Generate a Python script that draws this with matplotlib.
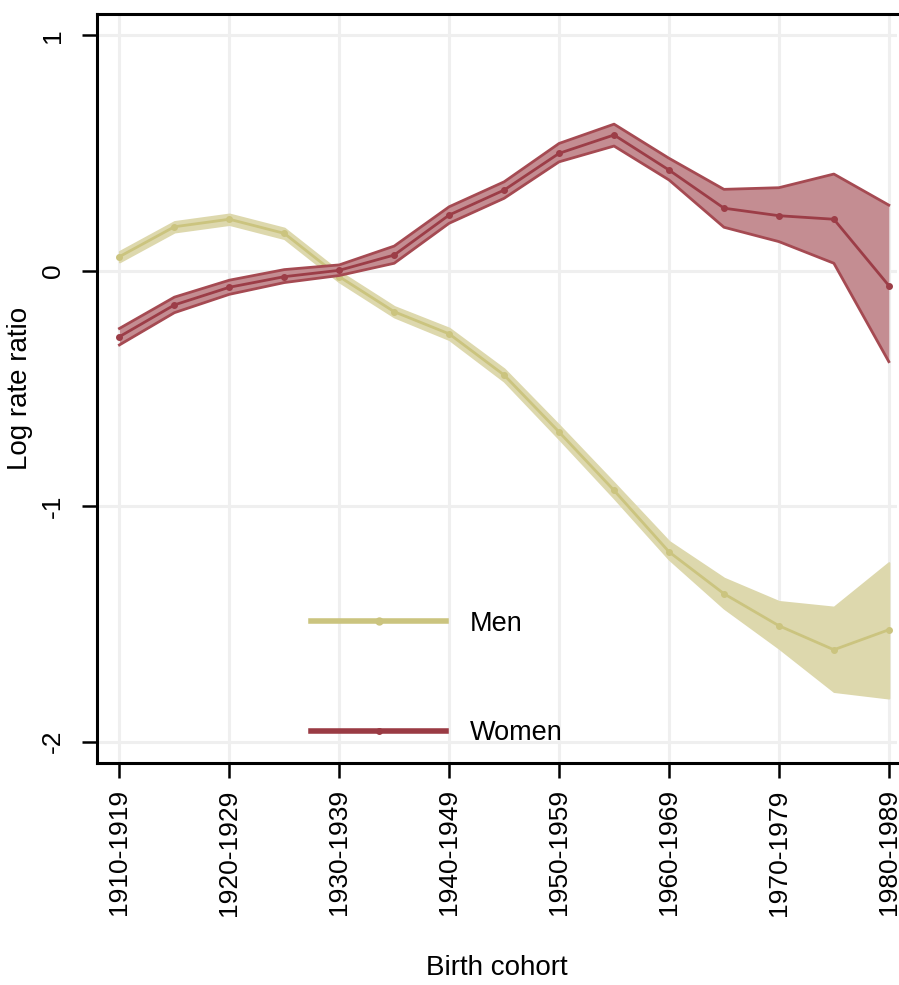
import matplotlib
matplotlib.use("Agg")
import matplotlib.pyplot as plt
from matplotlib.lines import Line2D
import numpy as np

plt.rcParams['font.family'] = ['Liberation Sans', 'DejaVu Sans']

# ---- data ----
cohort_index = list(range(15))  # half-decade steps, 1910 ... 1980
tick_labels = ["1910-1919", "1920-1929", "1930-1939", "1940-1949",
               "1950-1959", "1960-1969", "1970-1979", "1980-1989"]
tick_positions = [0, 2, 4, 6, 8, 10, 12, 14]

men = [0.060, 0.187, 0.219, 0.159, -0.025, -0.174, -0.268, -0.443, -0.685,
       -0.933, -1.194, -1.372, -1.508, -1.610, -1.525]
men_lo = [0.038, 0.165, 0.197, 0.137, -0.047, -0.196, -0.292, -0.469, -0.714,
          -0.965, -1.225, -1.433, -1.603, -1.787, -1.815]
men_hi = [0.082, 0.209, 0.241, 0.181, -0.003, -0.152, -0.244, -0.417, -0.656,
          -0.901, -1.150, -1.306, -1.405, -1.429, -1.240]

women = [-0.280, -0.145, -0.070, -0.025, 0.002, 0.067, 0.237, 0.343, 0.499,
         0.577, 0.428, 0.266, 0.234, 0.219, -0.063]
women_lo = [-0.315, -0.178, -0.100, -0.050, -0.020, 0.032, 0.202, 0.308, 0.463,
            0.530, 0.386, 0.185, 0.124, 0.032, -0.386]
women_hi = [-0.245, -0.112, -0.040, 0.005, 0.025, 0.105, 0.272, 0.378, 0.541,
            0.623, 0.478, 0.346, 0.353, 0.411, 0.279]

# ---- styles ----
men_fill = '#ddd8ad'
men_line = '#cbc47f'
women_fill = '#c48d92'
women_edge = '#a54a52'
women_line = '#9c3d47'
FS = 19

fig = plt.figure(figsize=(8.99, 9.85), dpi=100)
ax = fig.add_axes([0.1079, 0.2254, 0.8899, 0.7604])

# gridlines
for tp in tick_positions:
    ax.axvline(tp, color='#efefef', lw=2.2, zorder=0)
for yv in [1, 0, -1, -2]:
    ax.axhline(yv, color='#efefef', lw=2.2, zorder=0)

# men
ax.fill_between(cohort_index, men_lo, men_hi, color=men_fill, lw=1.5,
                edgecolor=men_fill, zorder=2)
ax.plot(cohort_index, men, color=men_line, lw=2, marker='o', ms=4, zorder=3)

# women
ax.fill_between(cohort_index, women_lo, women_hi, color=women_fill, zorder=4,
                lw=0)
ax.plot(cohort_index, women_lo, color=women_edge, lw=2, zorder=5)
ax.plot(cohort_index, women_hi, color=women_edge, lw=2, zorder=5)
ax.plot(cohort_index, women, color=women_line, lw=2, marker='o', ms=4, zorder=6)

ax.set_xlim(-0.408, 14.149)
ax.set_ylim(-2.091, 1.091)

ax.set_xticks(tick_positions)
ax.set_xticklabels(tick_labels, rotation=90, fontsize=FS)
ax.set_yticks([1, 0, -1, -2])
ax.set_yticklabels(['1', '0', '-1', '-2'], rotation=90, fontsize=FS,
                   va='center')
ax.tick_params(axis='x', direction='out', length=11, width=1.8,
               color='black', pad=8)
ax.tick_params(axis='y', direction='out', length=11, width=1.8,
               color='black', pad=12)

for s in ['left', 'bottom', 'top']:
    ax.spines[s].set_linewidth(2.2)
ax.spines['right'].set_visible(False)

ax.set_xlabel('Birth cohort', fontsize=20, labelpad=28)
ax.set_ylabel('Log rate ratio', fontsize=20, labelpad=6)

handles = [Line2D([], [], color=men_line, lw=4, marker='o', ms=5),
           Line2D([], [], color='#9a3b44', lw=4, marker='o', ms=4)]
ax.legend(handles, ['Men', 'Women'], loc='center left',
          bbox_to_anchor=(0.2675, 0.1128), frameon=False, fontsize=19.5,
          handlelength=5.0, handletextpad=0.85, labelspacing=3.1,
          borderpad=0, borderaxespad=0, markerscale=1)

fig.savefig('out.png', dpi=100)
